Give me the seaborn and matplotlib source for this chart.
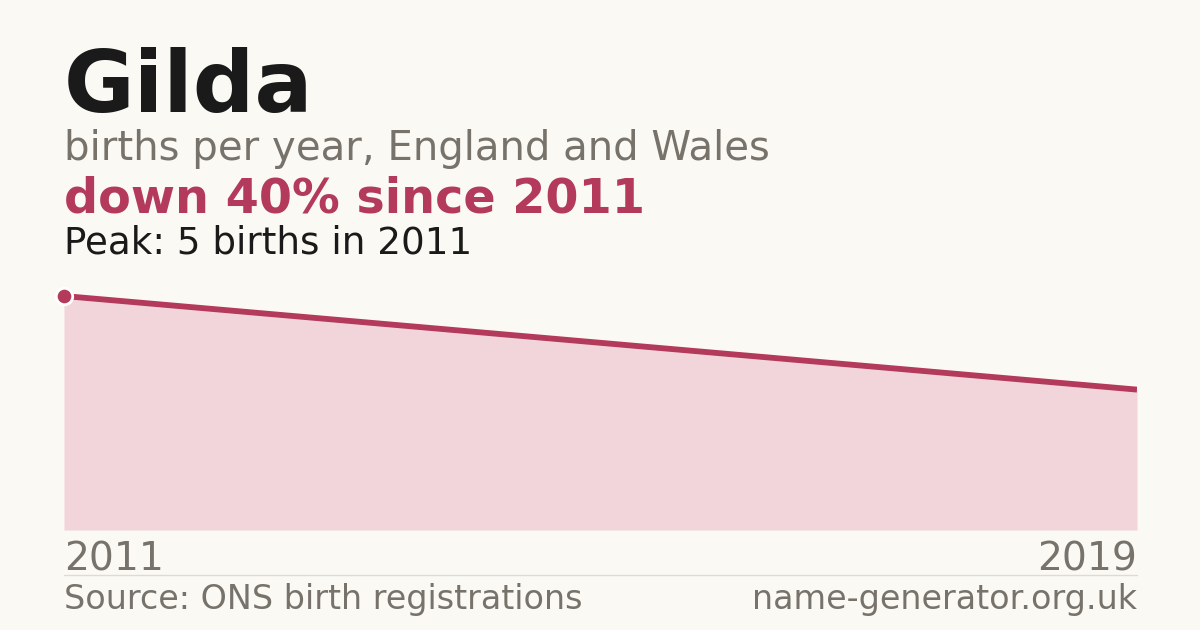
import numpy as np
import seaborn as sns
import matplotlib.pyplot as plt

# data
years = [2011, 2019]
births = [5, 3]
name = "Gilda"
peak_year = 2011
peak_value = 5

bg = "#faf9f4"
red = "#b33a5a"
fill = "#f2d5da"
grey = "#77736b"

sns.set_style("white")
plt.rcParams['font.family'] = ['DejaVu Sans']

fig = plt.figure(figsize=(12, 6.3), dpi=100, facecolor=bg)
ax = fig.add_axes([0.0533, 0.1587, 0.8942, 0.4127])
ax.set_facecolor(bg)

ax.fill_between(years, births, 0, color=fill, lw=0)
sns.lineplot(x=years, y=births, ax=ax, color=red, lw=4.2, solid_capstyle="butt")
ax.scatter([peak_year], [peak_value], s=140, color=red, edgecolor="white", linewidth=2, zorder=5, clip_on=False)

ax.set_xlim(min(years), max(years))
ax.set_ylim(0, peak_value / 0.9)
ax.axis("off")

fig.text(0.0533, 0.822, name, fontsize=62, fontweight="bold", color="#1a1a1a", va="baseline")
fig.text(0.0533, 0.746, "births per year, England and Wales", fontsize=29, color=grey, va="baseline")
drop = round((births[0] - births[-1]) / births[0] * 100)
fig.text(0.0533, 0.663, f"down {drop}% since {years[0]}", fontsize=34.4, fontweight="bold", color=red, va="baseline")
fig.text(0.0533, 0.598, f"Peak: {peak_value} births in {peak_year}", fontsize=26.8, color="#1a1a1a", va="baseline")

fig.text(0.0533, 0.095, str(years[0]), fontsize=28.3, color=grey, va="baseline", ha="left")
fig.text(0.9475, 0.095, str(years[-1]), fontsize=28.3, color=grey, va="baseline", ha="right")
fig.add_artist(plt.Line2D([0.0533, 0.9475], [0.087, 0.087], color="#dedbd3", lw=1))
fig.text(0.0533, 0.033, "Source: ONS birth registrations", fontsize=24, color=grey, va="baseline")
fig.text(0.9475, 0.033, "name-generator.org.uk", fontsize=24, color=grey, va="baseline", ha="right")

fig.savefig("out.png", dpi=100, facecolor=bg)
